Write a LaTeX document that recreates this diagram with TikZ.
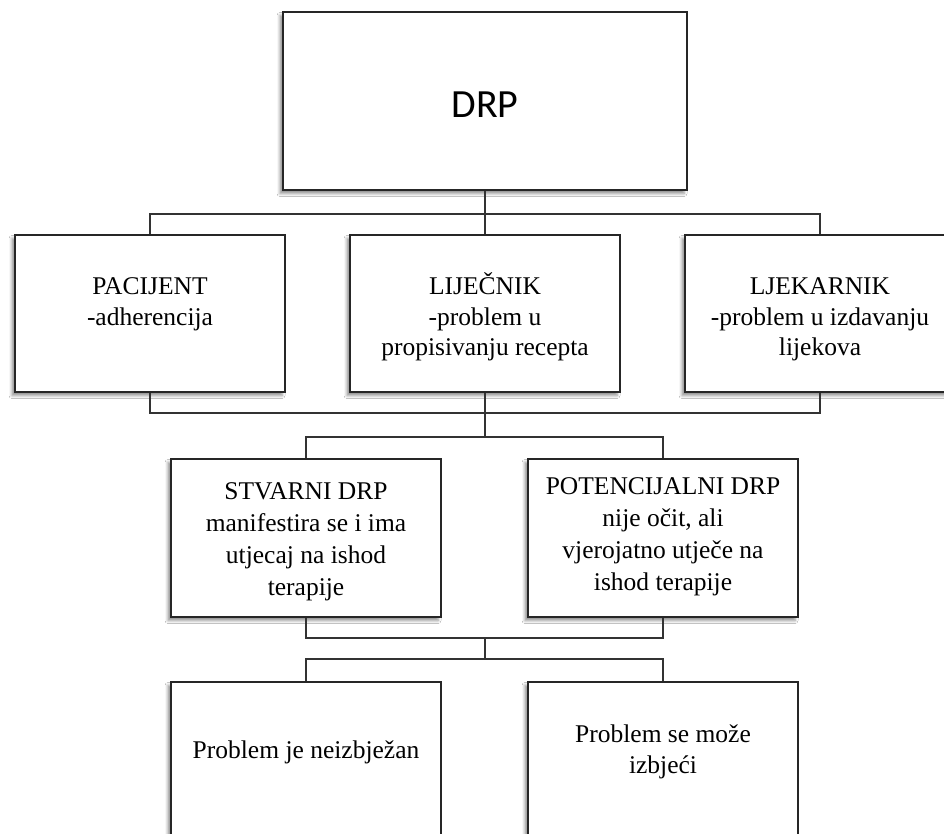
\documentclass[tikz,border=0pt]{standalone}
\usepackage{fontspec}
\setmainfont{Liberation Serif}
\newfontfamily\drpfont{Carlito}
\usetikzlibrary{shadows.blur}
\begin{document}
\begin{tikzpicture}[x=1pt,y=-1pt,
  box/.style={draw=black!85, line width=1.4pt, fill=white, rectangle, inner sep=0pt,
    blur shadow={shadow xshift=-3pt, shadow yshift=-3.5pt, shadow blur radius=3pt, shadow opacity=45}},
  txt/.style={align=center, inner sep=0pt, anchor=base, font=\fontsize{25.5}{30.5}\selectfont},
  txtb/.style={txt, font=\fontsize{25.5}{31.8}\selectfont},
  conn/.style={draw=black!80, line width=1.1pt}]
\path[use as bounding box] (0,0) rectangle (944,834);
\clip (0,0) rectangle (944,834);
\fill[white] (0,0) rectangle (944,834);

% boxes
\node[box, minimum width=404pt, minimum height=178pt] (drp) at (485,101) {};
\node[box, minimum width=270pt, minimum height=157pt] (pac) at (150,313.5) {};
\node[box, minimum width=270pt, minimum height=157pt] (lij) at (485,313.5) {};
\node[box, minimum width=270pt, minimum height=157pt] (lje) at (820,313.5) {};
\node[box, minimum width=270pt, minimum height=158pt] (stv) at (306,538) {};
\node[box, minimum width=270pt, minimum height=158pt] (pot) at (663,538) {};
\node[box, minimum width=270pt, minimum height=180pt] (bl) at (306,772) {};
\node[box, minimum width=270pt, minimum height=180pt] (br) at (663,772) {};

% junctions
\coordinate (j1) at (485,214);
\coordinate (j2) at (485,413);
\coordinate (j3) at (485,437);
\coordinate (j4) at (485,638);
\coordinate (j5) at (485,659);

% connectors
\draw[conn] (drp.south) -- (lij.north);
\draw[conn] (pac.north) |- (j1) -| (lje.north);
\draw[conn] (pac.south) |- (j2) -| (lje.south);
\draw[conn] (lij.south) -- (j3);
\draw[conn] (stv.north) |- (j3) -| (pot.north);
\draw[conn] (stv.south) |- (j4) -| (pot.south);
\draw[conn] (j4) -- (j5);
\draw[conn] (bl.north) |- (j5) -| (br.north);

% texts (base anchor = baseline of the last line)
\node[inner sep=0pt, font=\drpfont\fontsize{40}{40}\selectfont] (drpt) at (485,104.5) {DRP};
\node[txt] (pact) at (150,325) {PACIJENT\\-adherencija};
\node[txt] (lijt) at (485,355.5) {LIJEČNIK\\-problem u\\propisivanju recepta};
\node[txt] (ljet) at (820,355.5) {LJEKARNIK\\-problem u izdavanju\\lijekova};
\node[txtb] (stvt) at (306,595) {STVARNI DRP\\manifestira se i ima\\utjecaj na ishod\\terapije};
\node[txtb] (pott) at (663,590) {POTENCIJALNI DRP\\nije očit, ali\\vjerojatno utječe na\\ishod terapije};
\node[txt] (blt) at (306,758) {Problem je neizbježan};
\node[txt] (brt) at (663,773) {Problem se može\\izbjeći};
\end{tikzpicture}
\end{document}
